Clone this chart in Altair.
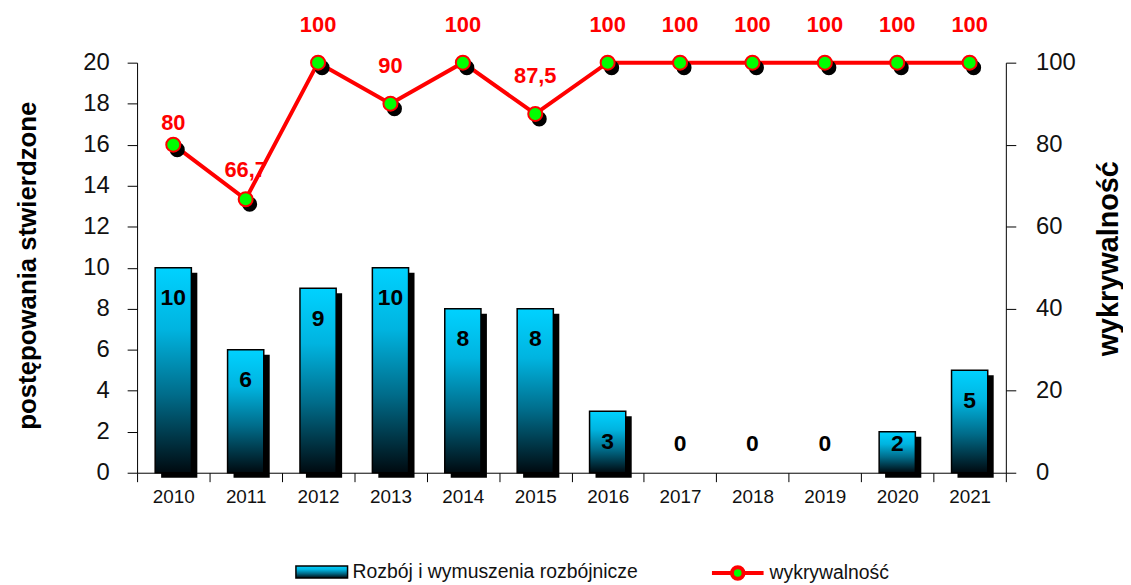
import altair as alt
import pandas as pd

years = ["2010", "2011", "2012", "2013", "2014", "2015", "2016", "2017", "2018", "2019", "2020", "2021"]
cases = [10, 6, 9, 10, 8, 8, 3, 0, 0, 0, 2, 5]
rate = [80, 66.7, 100, 90, 100, 87.5, 100, 100, 100, 100, 100, 100]
bar_series = "Rozbój i wymuszenia rozbójnicze"
line_series = "wykrywalność"
left_ticks = [0, 2, 4, 6, 8, 10, 12, 14, 16, 18, 20]
right_ticks = [0, 20, 40, 60, 80, 100]

df = pd.DataFrame({"rok": years, "v": cases, "w": rate, "s1": bar_series, "s2": line_series})

REG = "Liberation Sans, Arial"

W, H = 875, 413

x_enc = alt.X(
    "rok:N", sort=years,
    scale=alt.Scale(paddingInner=0, paddingOuter=0),
    axis=alt.Axis(title=None, labelAngle=0, labelFont=REG, labelFontSize=19, labelColor="#111",
                  labelPadding=6, tickBand="extent", tickSize=9, tickColor="#000", tickWidth=1,
                  domainColor="#000", domainWidth=1),
)

grad = alt.Gradient(
    gradient="linear", x1=0, x2=0, y1=0, y2=1,
    stops=[alt.GradientStop(color="#00D2FF", offset=0),
           alt.GradientStop(color="#00B4E0", offset=0.3),
           alt.GradientStop(color="#006C8A", offset=0.62),
           alt.GradientStop(color="#000A10", offset=1)],
)

left_axis = alt.Axis(values=left_ticks, title="postępowania stwierdzone", grid=False,
                     titleFont=REG, titleFontSize=26, titleFontWeight="bold", titleColor="#000",
                     titleAngle=270, titleX=-110, titleY=204, titleAlign="center", titleBaseline="middle",
                     labelFont=REG, labelFontSize=24, labelColor="#111", labelPadding=18,
                     tickSize=10, tickColor="#000", domainColor="#000")
left_scale = alt.Scale(domain=[0, 20])

base = alt.Chart(df)

bar_shadow = base.mark_bar(color="#000", width=alt.RelativeBandSize(0.5), xOffset=6, yOffset=5, y2Offset=0).encode(
    x=x_enc, y=alt.Y("v:Q", scale=left_scale, axis=left_axis),
    opacity=alt.condition("datum.v > 0", alt.value(1), alt.value(0)),
)
bars = base.mark_bar(fill=grad, width=alt.RelativeBandSize(0.5), strokeWidth=1.5).encode(
    x=x_enc, y=alt.Y("v:Q", scale=left_scale, axis=left_axis),
    opacity=alt.condition("datum.v > 0", alt.value(1), alt.value(0)),
    stroke=alt.Stroke("s1:N", scale=alt.Scale(range=["#000"]),
                      legend=alt.Legend(title=None, orient="none", legendX=172, legendY=499,
                                        symbolType="M-2,-0.46H2V0.46H-2Z", symbolSize=676,
                                        symbolStrokeWidth=1.5, symbolFillColor="#00B8E6", symbolOpacity=1,
                                        labelOffset=17, labelFont=REG, labelFontSize=19.5, labelLimit=0,
                                        labelColor="#111", padding=0)),
)
bar_labels = base.mark_text(font=REG, fontSize=23, fontWeight="bold", color="#000", baseline="middle").transform_calculate(
    ypos="max(datum.v - 1.5, 1.38)"
).encode(
    x=x_enc, y=alt.Y("ypos:Q", scale=left_scale, axis=left_axis), text="v:Q"
)
bar_group = alt.layer(bar_shadow, bars, bar_labels)

right_axis = alt.Axis(orient="right", values=right_ticks, title="wykrywalność", grid=False,
                      titleFont=REG, titleFontSize=29, titleFontWeight="bold", titleColor="#000",
                      titleAngle=270, titleX=103, titleY=197, titleAlign="center", titleBaseline="middle",
                      labelFont=REG, labelFontSize=24, labelColor="#111", labelPadding=20,
                      tickSize=10, tickColor="#000", domainColor="#000")
right_scale = alt.Scale(domain=[0, 100])

line = base.mark_line(color="#FF0000", strokeWidth=4).encode(
    x=x_enc, y=alt.Y("w:Q", scale=right_scale, axis=right_axis))
pt_shadow = base.mark_circle(color="#000", size=230, opacity=1, xOffset=4, yOffset=5).encode(
    x=x_enc, y=alt.Y("w:Q", scale=right_scale, axis=right_axis))
points = base.mark_point(filled=True, fill="#00FF00", shape="circle", size=200, strokeWidth=2, opacity=1).encode(
    x=x_enc, y=alt.Y("w:Q", scale=right_scale, axis=right_axis),
    stroke=alt.Stroke("s2:N", scale=alt.Scale(range=["#FF0000"]),
                      legend=alt.Legend(title=None, orient="none", legendX=590, legendY=499,
                                        symbolType="M-2,0H-0.45M0.45,0H2M0.45,0A0.45,0.45,0,1,1,-0.45,0A0.45,0.45,0,1,1,0.45,0Z",
                                        symbolSize=676, symbolStrokeWidth=4, symbolFillColor="#00FF00",
                                        labelOffset=17, labelFont=REG, labelFontSize=19.5, labelLimit=0,
                                        labelColor="#111", padding=0)),
)
line_labels = base.mark_text(font=REG, fontSize=22, fontWeight="bold", color="#FF0000", baseline="middle").transform_calculate(
    ly="datum.w + (datum.w >= 85 ? 9.2 : (datum.w >= 75 ? 5.2 : 7))",
    txt="replace(toString(datum.w), '.', ',')",
).encode(
    x=x_enc, y=alt.Y("ly:Q", scale=right_scale, axis=right_axis), text="txt:N"
)
line_group = alt.layer(line, pt_shadow, points, line_labels)

chart = alt.layer(bar_group, line_group).resolve_scale(y="independent", stroke="independent").properties(
    width=W, height=H,
    autosize=alt.AutoSizeParams(type="none"),
    padding={"left": 130, "top": 53, "right": 118, "bottom": 110},
).configure_view(stroke=None)

chart.save("out.html", embed_options={"renderer": "svg", "actions": False})
